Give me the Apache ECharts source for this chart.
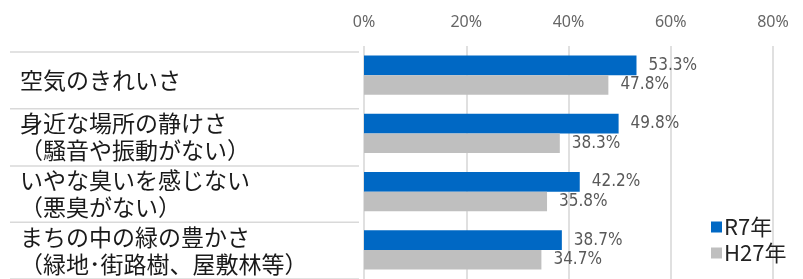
<!DOCTYPE html>
<html>
<head>
<meta charset="utf-8">
<script src="https://cdn.jsdelivr.net/npm/echarts@6/dist/echarts.min.js"></script>
<style>
  html, body { margin: 0; padding: 0; background: #fff; }
  #chart { width: 803px; height: 279px; }
</style>
</head>
<body>
<div id="chart"></div>
<script>
const categories = [
  '空気のきれいさ',
  '身近な場所の静けさ\n（騒音や振動がない）',
  'いやな臭いを感じない\n（悪臭がない）',
  'まちの中の緑の豊かさ\n（緑地･街路樹、屋敷林等）'
]
const r7Values = [53.3, 49.8, 42.2, 38.7]
const h27Values = [47.8, 38.3, 35.8, 34.7]
const seriesNames = ['R7年', 'H27年']
const axisMin = 0
const axisMax = 80
const axisStep = 20

const jp = '"Noto Sans CJK JP", "Noto Sans", sans-serif'
const valueFont = '"DejaVu Sans Condensed", "Liberation Sans", sans-serif'

const valueLabel = {
  show: true,
  position: 'right',
  distance: 12,
  fontFamily: valueFont,
  fontSize: 17,
  color: '#595959',
  formatter: p => p.value.toFixed(1) + '%'
}

const chart = echarts.init(document.getElementById('chart'))
chart.setOption({
  animation: false,
  legend: {
    orient: 'vertical',
    left: 706,
    top: 211,
    itemWidth: 11,
    itemHeight: 11,
    itemGap: 4,
    icon: 'rect',
    textStyle: { fontFamily: jp, fontSize: 22, color: '#222', padding: [0, 0, 0, -3] },
    data: seriesNames
  },
  grid: [
    { left: 364, right: 30, top: 46, height: 240 },
    { left: 359, right: 30, top: 52, height: 228 }
  ],
  xAxis: [
    {
      gridIndex: 0,
      type: 'value',
      position: 'top',
      min: axisMin,
      max: axisMax,
      interval: axisStep,
      axisLine: { show: false },
      axisTick: { show: false },
      axisLabel: {
        margin: 16,
        fontFamily: '"Noto Sans", sans-serif',
        fontSize: 16,
        color: '#666',
        formatter: '{value}%'
      },
      splitLine: { lineStyle: { color: '#d6d6d6', width: 1.5 } }
    },
    { gridIndex: 1, type: 'value', show: false, min: axisMin, max: axisMax }
  ],
  yAxis: [
    {
      gridIndex: 0,
      type: 'category',
      data: categories,
      inverse: true,
      axisLine: { show: false },
      axisTick: { show: false },
      axisLabel: { show: false }
    },
    {
      gridIndex: 1,
      type: 'category',
      data: categories,
      inverse: true,
      axisLine: { show: false },
      axisTick: { show: true, length: 349, lineStyle: { color: '#d9d9d9', width: 1.5 } },
      axisLabel: {
        align: 'left',
        margin: 339,
        fontFamily: jp,
        fontSize: 23,
        lineHeight: 27,
        color: '#1a1a1a'
      }
    }
  ],
  series: [
    {
      name: seriesNames[0],
      type: 'bar',
      xAxisIndex: 0,
      yAxisIndex: 0,
      data: r7Values,
      barGap: '0%',
      barCategoryGap: '33%',
      itemStyle: { color: '#0068c4' },
      label: valueLabel
    },
    {
      name: seriesNames[1],
      type: 'bar',
      xAxisIndex: 0,
      yAxisIndex: 0,
      data: h27Values,
      itemStyle: { color: '#bfbfbf' },
      label: valueLabel
    }
  ]
})
</script>
</body>
</html>
